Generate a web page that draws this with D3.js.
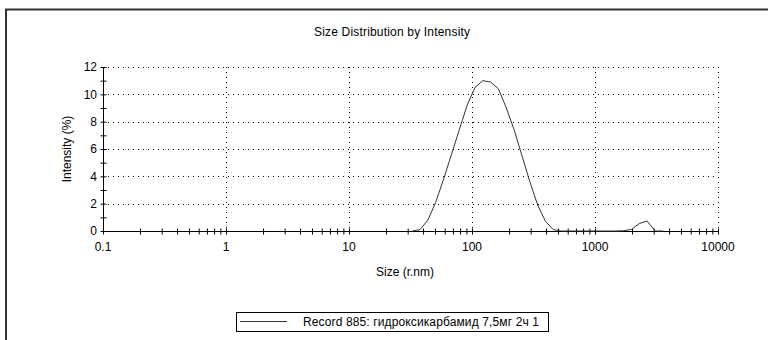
<!DOCTYPE html>
<html>
<head>
<meta charset="utf-8">
<script src="https://cdn.jsdelivr.net/npm/d3@7"></script>
<style>
  body { margin: 0; background: #fff; }
  svg { font-family: "Liberation Sans", Arial, sans-serif; }
</style>
</head>
<body>
<div class="chart"></div>
<script>
// size bins (r.nm) and intensity (%)
const sizes = [32.7, 37.8, 43.8, 50.7, 58.8, 68.1, 78.8, 91.3, 105.7, 122.4, 141.8, 164.2, 190.1, 220.2, 255.0, 295.3, 342.0, 396.1, 458.7, 531.2, 615.1,
  712.4, 825.0, 955.4, 1106, 1281, 1476, 1710, 1981, 2294, 2656, 3076, 3562];
const intensity = [0, 0.1, 0.8, 2.1, 3.8, 5.6, 7.4, 9.2, 10.5, 11.0, 10.9, 10.4, 9.0, 7.4, 5.5, 3.6, 1.9, 0.7, 0.1, 0, 0,
  0, 0, 0, 0, 0, 0, 0.02, 0.12, 0.55, 0.73, 0, 0];
const xTickLabels = ['0.1', '1', '10', '100', '1000', '10000'];
const yTickValues = [0, 2, 4, 6, 8, 10, 12];
const legendLabel = 'Record 885:  гидроксикарбамид 7,5мг 2ч 1';

const svg = d3.select('.chart').append('svg')
  .attr('width', 768)
  .attr('height', 340);

// outer frame (top and left edges only visible)
svg.append('path')
  .attr('d', 'M6,340V9.5H768')
  .attr('fill', 'none')
  .attr('stroke', '#333')
  .attr('stroke-width', 2);

const x = d3.scaleLog().domain([0.1, 10000]).range([103, 718]);
const y = d3.scaleLinear().domain([0, 12]).range([231, 67]);

svg.append('text')
  .attr('x', 392).attr('y', 36)
  .attr('text-anchor', 'middle')
  .attr('font-size', 12)
  .attr('textLength', 156)
  .text('Size Distribution by Intensity');

// dotted grid
const grid = svg.append('g')
  .attr('stroke', '#000')
  .attr('stroke-width', 1)
  .attr('stroke-dasharray', '1,4');
grid.selectAll('.gy')
  .data(yTickValues.slice(1))
  .enter().append('line')
  .attr('x1', x(0.1)).attr('x2', x(10000))
  .attr('y1', d => Math.round(y(d)) + 0.5).attr('y2', d => Math.round(y(d)) + 0.5);
grid.selectAll('.gx')
  .data(xTickLabels.slice(1).map(Number))
  .enter().append('line')
  .attr('x1', d => Math.round(x(d)) + 0.5).attr('x2', d => Math.round(x(d)) + 0.5)
  .attr('y1', y(12)).attr('y2', y(0));

// x axis
const xAxis = svg.append('g')
  .attr('transform', `translate(0,${Math.round(y(0)) + 0.5})`)
  .call(d3.axisBottom(x).tickValues(x.ticks()).tickSize(3).tickFormat(''));
xAxis.select('.domain').attr('d', `M${x(0.1)},0H${x(10000)}`).attr('stroke', '#000');
xAxis.selectAll('.tick line').attr('y1', -3).attr('y2', 3).attr('stroke', '#000');
svg.selectAll('.xl')
  .data(xTickLabels)
  .enter().append('text')
  .attr('x', d => x(+d))
  .attr('y', 251)
  .attr('text-anchor', 'middle')
  .attr('font-size', 12)
  .text(d => d);

// y axis
const yAxis = svg.append('g')
  .attr('transform', `translate(${Math.round(x(0.1)) + 0.5},0)`)
  .call(d3.axisLeft(y).tickValues(d3.range(0, 13)).tickSize(3).tickFormat(''));
yAxis.select('.domain').attr('d', `M0,${y(0)}V${y(12)}`).attr('stroke', '#000');
yAxis.selectAll('.tick line').attr('x1', -3).attr('x2', 3).attr('stroke', '#000');
svg.selectAll('.yl')
  .data(yTickValues)
  .enter().append('text')
  .attr('x', 97)
  .attr('y', d => y(d))
  .attr('dy', '0.35em')
  .attr('text-anchor', 'end')
  .attr('font-size', 12)
  .text(d => d);

svg.append('text')
  .attr('transform', 'translate(71,149) rotate(-90)')
  .attr('text-anchor', 'middle')
  .attr('font-size', 12)
  .text('Intensity (%)');

svg.append('text')
  .attr('x', 405).attr('y', 276)
  .attr('text-anchor', 'middle')
  .attr('font-size', 12)
  .text('Size (r.nm)');

// distribution curve
const line = d3.line()
  .x((d, i) => x(sizes[i]))
  .y(d => y(d));
svg.append('path')
  .datum(intensity)
  .attr('d', line)
  .attr('fill', 'none')
  .attr('stroke', '#333')
  .attr('stroke-width', 1);

// legend
const lg = svg.append('g');
lg.append('rect')
  .attr('x', 236.5).attr('y', 312.5)
  .attr('width', 312).attr('height', 19)
  .attr('fill', '#fff')
  .attr('stroke', '#000');
lg.append('line')
  .attr('x1', 240).attr('x2', 287)
  .attr('y1', 321.5).attr('y2', 321.5)
  .attr('stroke', '#333');
lg.append('text')
  .attr('x', 303).attr('y', 326)
  .attr('font-size', 12)
  .attr('textLength', 236)
  .text(legendLabel);
</script>
</body>
</html>
